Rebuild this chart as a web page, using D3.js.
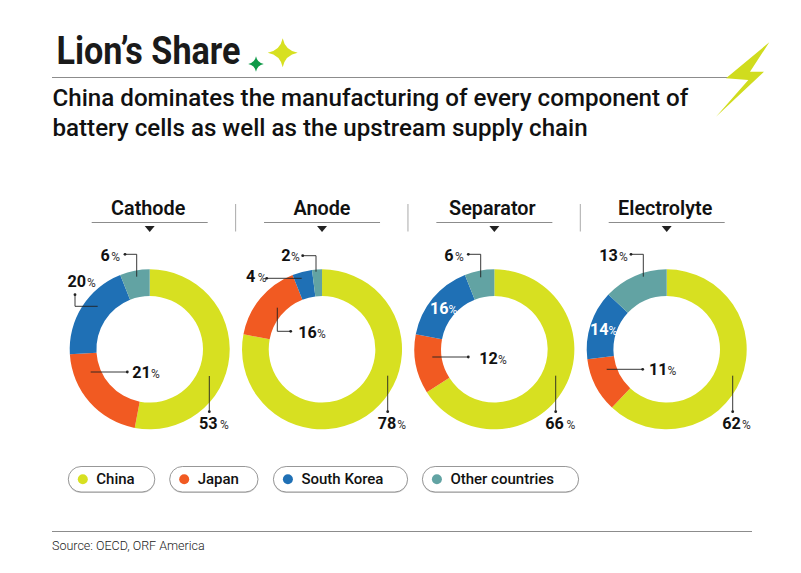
<!DOCTYPE html>
<html><head><meta charset="utf-8">
<script src="https://d3js.org/d3.v7.min.js"></script>
<style>html,body{margin:0;padding:0;background:#fff}svg{display:block}text{font-family:Roboto,sans-serif;fill:#111}</style>
</head><body><svg id="c" width="801" height="573"></svg>
<script>
const components=["Cathode","Anode","Separator","Electrolyte"];
const countries=["China","Japan","South Korea","Other countries"];
const china=[53,78,66,62];
const japan=[21,16,12,11];
const korea=[20,4,16,14];
const other=[6,2,6,13];
const colors=["#d7e021","#f15a22","#1f70b5","#62a3a3"];
const titleText="Lion’s Share";
const subtitleLines=["China dominates the manufacturing of every component of","battery cells as well as the upstream supply chain"];
const sourceText="Source: OECD, ORF America";

// annotation layout: [component, country] -> label anchor + leader path
const labelLayout=[
 {c:0,s:0,x:199,y:428.5,gap:2.5,leader:[[209.3,376],[209.3,411.7]]},
 {c:0,s:1,x:132.3,y:378,gap:0,leader:[[90.7,372],[127.3,372]]},
 {c:0,s:2,x:67.5,y:287,gap:1,leader:[[97.7,306.3],[75,306.3],[75,294.7]]},
 {c:0,s:3,x:100.5,y:261,gap:1.5,leader:[[136.7,276.7],[136.7,254.3],[125,254.3]]},
 {c:1,s:0,x:377.7,y:428.5,gap:1,leader:[[387.7,375.7],[387.7,411.7]]},
 {c:1,s:1,x:298.3,y:338,gap:0,leader:[[277.3,307.7],[277.3,331.3],[290.7,331.3]]},
 {c:1,s:2,x:246,y:282,gap:2.5,leader:[[301.7,278.3],[266.7,278.3]]},
 {c:1,s:3,x:281.3,y:261,gap:0.5,leader:[[316,271.7],[316,255.7],[302.7,255.7]]},
 {c:2,s:0,x:545.3,y:428.5,gap:2.5,leader:[[555.7,375.7],[555.7,411.7]]},
 {c:2,s:1,x:479.3,y:364,gap:0,leader:[[432.3,357],[468.3,357]]},
 {c:2,s:2,x:430,y:313.5,gap:0,white:true,leader:null},
 {c:2,s:3,x:444.3,y:260.5,gap:1.5,leader:[[480.7,277.3],[480.7,254.3],[468.3,254.3]]},
 {c:3,s:0,x:722.3,y:428.5,gap:1,leader:[[732.7,375.7],[732.7,411.7]]},
 {c:3,s:1,x:649,y:374.5,gap:0,leader:[[606.7,369.3],[642.7,369.3]]},
 {c:3,s:2,x:590,y:334.5,gap:0,white:true,leader:null},
 {c:3,s:3,x:599.3,y:260.5,gap:1,leader:[[643.3,276.7],[643.3,254.3],[631,254.3]]}
];
const legendLayout=[[68.3,154.8],[169.7,258],[273.4,407.6],[422.4,578.6]];
const headerShift=[-1.5,0,-2,-1.5];

const svg=d3.select("#c");
const series=[china,japan,korea,other];
const x=d3.scalePoint().domain(components).range([149.7,666.7]);
const cy=349.3, ro=80, ri=53.3;
const grey="#8c8c8c";

// header
svg.append("text").attr("x",56.5).attr("y",63.5).attr("font-size",38.5).attr("font-weight",700)
  .attr("textLength",184).attr("lengthAdjust","spacingAndGlyphs").style("fill","#1a1a1a").text(titleText);
svg.append("line").attr("x1",52).attr("x2",730).attr("y1",77.5).attr("y2",77.5).attr("stroke",grey).attr("stroke-width",1);
svg.selectAll(".sub").data(subtitleLines).join("text").attr("class","sub")
  .attr("x",52.5).attr("y",(d,i)=>106+i*30).attr("font-size",24.15).attr("font-weight",500).text(d=>d);

function sparkle(cx,cy,rx,ry,col){
  const k=0.16;
  const p=d3.path();
  p.moveTo(cx,cy-ry);
  p.quadraticCurveTo(cx+rx*k,cy-ry*k,cx+rx,cy);
  p.quadraticCurveTo(cx+rx*k,cy+ry*k,cx,cy+ry);
  p.quadraticCurveTo(cx-rx*k,cy+ry*k,cx-rx,cy);
  p.quadraticCurveTo(cx-rx*k,cy-ry*k,cx,cy-ry);
  svg.append("path").attr("d",p.toString()).attr("fill",col);
}
sparkle(282.7,52.7,15,14.5,"#d7e021");
sparkle(256,64,7.8,7.8,"#0f9a48");
svg.append("polygon").attr("fill","#d0dc1e")
  .attr("points","769.3,42.3 750,71.7 764,71.7 716,116.7 748.3,80 726,78.3");

// column headers
const bw=58;
components.forEach((name,i)=>{
  const cx=x(name);
  svg.append("text").attr("x",cx+headerShift[i]).attr("y",215.3).attr("text-anchor","middle")
    .attr("font-size",19.8).attr("font-weight",600).text(name);
  svg.append("line").attr("x1",cx-bw).attr("x2",cx+bw).attr("y1",222.5).attr("y2",222.5).attr("stroke",grey).attr("stroke-width",1);
  svg.append("path").attr("d",d3.line()([[cx-5,226],[cx+5,226],[cx,232]])+"Z").attr("fill","#222");
  if(i>0) svg.append("line").attr("x1",cx-86.4).attr("x2",cx-86.4).attr("y1",204).attr("y2",231.5).attr("stroke","#aaa").attr("stroke-width",1);
});

// donuts
const pie=d3.pie().sort(null).value(d=>d);
const arc=d3.arc().innerRadius(ri).outerRadius(ro);
components.forEach((name,i)=>{
  const vals=series.map(s=>s[i]);
  svg.append("g").attr("transform",`translate(${x(name)},${cy})`)
    .selectAll("path").data(pie(vals)).join("path")
    .attr("d",arc).attr("fill",(d,j)=>colors[j]);
});

// leaders + labels
labelLayout.forEach(l=>{
  if(l.leader){
    svg.append("path").attr("d",d3.line()(l.leader)).attr("fill","none").attr("stroke","#222").attr("stroke-width",0.9);
    const e=l.leader[l.leader.length-1];
    svg.append("circle").attr("cx",e[0]).attr("cy",e[1]).attr("r",1.4).attr("fill","#222");
  }
  const t=svg.append("text").attr("x",l.x).attr("y",l.y);
  const col=l.white?"#fff":"#111";
  t.append("tspan").attr("font-size",16.2).attr("font-weight",700).style("fill",col).text(series[l.s][l.c]);
  t.append("tspan").attr("dx",l.gap).attr("font-size",12).attr("font-weight",400).style("fill",l.white?"#fff":"#333").text("%");
});

// legend
countries.forEach((name,i)=>{
  const [a,b]=legendLayout[i];
  svg.append("rect").attr("x",a).attr("y",467.5).attr("width",b-a).attr("height",25.5).attr("rx",12.75)
    .attr("fill","#cfcfcf");
  svg.append("rect").attr("x",a).attr("y",466.5).attr("width",b-a).attr("height",25.5).attr("rx",12.75)
    .attr("fill","#fff").attr("stroke",grey).attr("stroke-width",0.9);
  svg.append("circle").attr("cx",a+14.5).attr("cy",479.3).attr("r",5).attr("fill",colors[i]);
  svg.append("text").attr("x",a+28).attr("y",484).attr("font-size",15).attr("font-weight",500).text(name);
});

// footer
svg.append("line").attr("x1",52).attr("x2",752).attr("y1",531.5).attr("y2",531.5).attr("stroke",grey).attr("stroke-width",1);
svg.append("text").attr("x",52).attr("y",550).attr("font-size",12.5).attr("font-weight",300).style("fill","#222").text(sourceText);
</script></body></html>
